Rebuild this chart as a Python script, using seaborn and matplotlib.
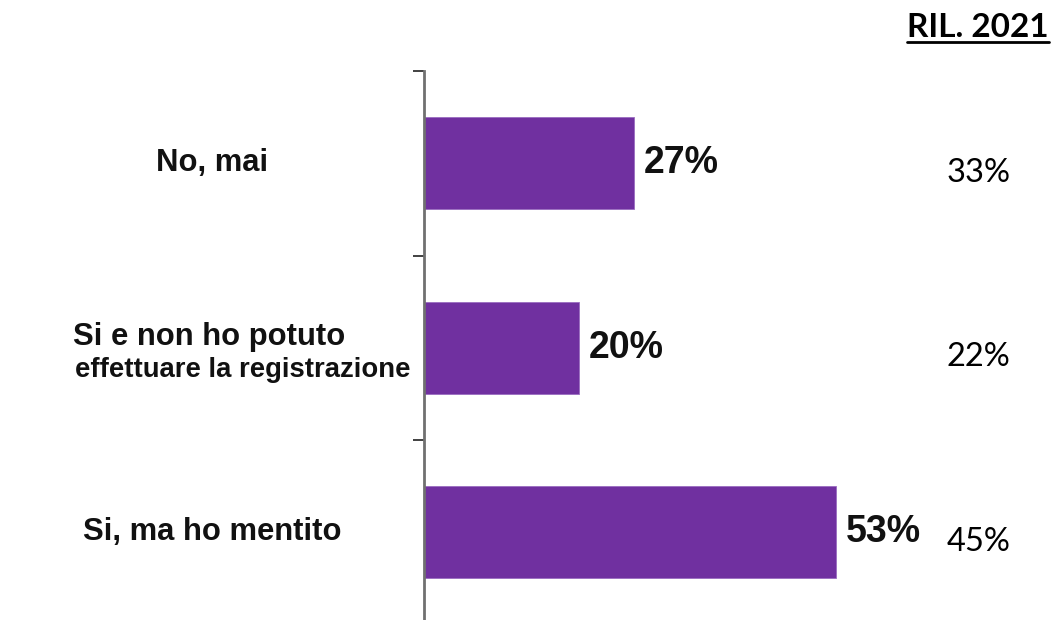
import matplotlib
matplotlib.use("Agg")
import matplotlib.pyplot as plt
import matplotlib.transforms as mtransforms
from matplotlib import font_manager
from matplotlib.lines import Line2D
import pandas as pd
import seaborn as sns

# Survey answers and shares (current survey vs. 2021 survey)
categories = ["No, mai", "Si e non ho potuto\neffettuare la registrazione", "Si, ma ho mentito"]
values = [27, 20, 53]
values_2021 = [33, 22, 45]
header_2021 = "RIL. 2021"

sns.set_style("white")
plt.rcParams["font.family"] = ["Liberation Sans", "DejaVu Sans"]

W, H = 1053, 620
fig = plt.figure(figsize=(W / 100, H / 100), dpi=100)
ax = fig.add_axes([424 / W, -4.5 / H, 621.6 / W, (624.5 - 71) / H])

df = pd.DataFrame({"risposta": categories, "quota": values})
sns.barplot(data=df, x="quota", y="risposta", orient="h", color="#7030A0",
            saturation=1, width=0.5, ax=ax, edgecolor="#9a6cc0", linewidth=0.6)

ax.set_xlim(0, 80)
ax.set_ylim(2.5, -0.5)
ax.set_xlabel("")
ax.set_ylabel("")
ax.set_xticks([])
ax.set_yticks([-0.5, 0.5, 1.5, 2.5])
ax.set_yticklabels([])
ax.tick_params(axis="y", which="major", direction="out", length=8, width=1.3,
               color="#333333", left=True)
for side in ("top", "right", "bottom"):
    ax.spines[side].set_visible(False)
ax.spines["left"].set_color("#707070")
ax.spines["left"].set_linewidth(2.0)

# Value labels at bar ends
ax.bar_label(ax.containers[0], labels=[f"{v}%" for v in values], padding=7,
             fontsize=27, fontweight="bold", color="#111111",
             family=["Liberation Sans", "DejaVu Sans"])

# Category labels to the left of the axis
trans_lab = mtransforms.blended_transform_factory(fig.transFigure, ax.transData)
installed = {f.name for f in font_manager.fontManager.ttflist}
if "Liberation Sans Narrow" in installed:
    narrow_family, narrow_size = ["Liberation Sans Narrow", "DejaVu Sans"], 23.5
else:
    narrow_family, narrow_size = ["Liberation Sans", "DejaVu Sans"], 19.8

label_style = dict(fontweight="bold", color="#111111")
ax.text(212 / W, 0, categories[0], transform=trans_lab, ha="center", va="center",
        fontsize=22.3, family=["Liberation Sans", "DejaVu Sans"], **label_style)
line1, line2 = categories[1].split("\n")
ax.text(73 / W, 1, line1, ha="left", va="baseline", fontsize=22.3,
        family=["Liberation Sans", "DejaVu Sans"],
        transform=mtransforms.offset_copy(trans_lab, fig=fig, y=2, units="points"),
        **label_style)
ax.text(75 / W, 1, line2, ha="left", va="baseline", fontsize=narrow_size,
        family=narrow_family,
        transform=mtransforms.offset_copy(trans_lab, fig=fig, y=-21, units="points"),
        **label_style)
ax.text(212 / W, 2, categories[2], transform=trans_lab, ha="center", va="center",
        fontsize=22.3, family=["Liberation Sans", "DejaVu Sans"], **label_style)

# Comparison column
trans_col = mtransforms.offset_copy(trans_lab, fig=fig, x=0, y=-7, units="points")
for i, v in enumerate(values_2021):
    ax.text(947 / W, i, f"{v}%", transform=trans_col, ha="left", va="center",
            fontsize=23.5, color="#000000", family=["Lato", "DejaVu Sans"])

hdr = fig.text(1049 / W, 1 - 37 / H, header_2021, ha="right", va="baseline",
               fontsize=24, fontweight="bold", color="#000000",
               family=["Lato", "DejaVu Sans"])
fig.canvas.draw()
bb = hdr.get_window_extent(fig.canvas.get_renderer())
uy = (H - 42) / H
fig.add_artist(Line2D([bb.x0 / W, bb.x1 / W], [uy, uy], transform=fig.transFigure,
                      color="#000000", linewidth=2.0))

fig.savefig("out.png", dpi=100, facecolor="white")
